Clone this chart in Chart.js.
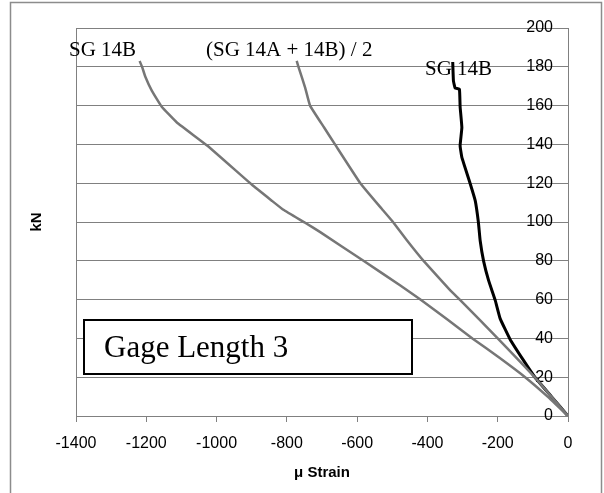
<!DOCTYPE html>
<html>
<head>
<meta charset="utf-8">
<script src="https://cdn.jsdelivr.net/npm/chart.js@4.4.0/dist/chart.umd.min.js"></script>
<style>
    html, body { margin: 0; padding: 0; background: #fff; }
    #wrap { position: relative; width: 604px; height: 493px; }
</style>
</head>
<body>
<div id="wrap"><canvas id="gageChart" width="604" height="493"></canvas></div>
<script>
// SG 14B (left gray curve)
const strainLeft = [0, -58, -122, -195, -272, -345, -420, -477, -582, -705, -748, -810, -843, -900, -1026, -1113, -1156, -1184, -1203, -1212, -1219];
const kNLeft     = [0, 10, 20, 30, 40, 50, 60, 67.3, 80, 94.8, 99.6, 106.3, 111, 119.3, 139.3, 151.3, 159.4, 167.6, 175, 180, 183];

// (SG 14A + 14B) / 2 (middle gray curve)
const strainAvg = [0, -95, -200, -308, -335, -411, -458, -498, -530, -591, -663, -694, -734, -748, -767, -772];
const kNAvg     = [0, 20, 40, 60, 64.8, 80, 90.5, 100, 106.8, 120, 140, 148.7, 160, 169.3, 180, 183];

// SG 14B (right black curve)
const strainRight = [0, -47, -93, -127, -165, -193, -207, -226, -240, -250, -255, -264, -278, -302, -307, -302, -307, -309, -321, -326, -328];
const kNRight     = [0, 10, 19.7, 28.8, 39.6, 50.2, 59.6, 69.9, 79.7, 90.5, 99.9, 111, 119.6, 133.3, 139.3, 148.7, 159.4, 168.5, 169, 172.7, 182.5];

const xTicks = [-1400, -1200, -1000, -800, -600, -400, -200, 0];
const yTicks = [0, 20, 40, 60, 80, 100, 120, 140, 160, 180, 200];

const seriesLabels = ['SG 14B', '(SG 14A + 14B) / 2', 'SG 14B'];
const boxLabel = 'Gage Length 3';

function toPoints(xs, ys) {
    return xs.map((x, i) => ({ x: x, y: ys[i] }));
}

const gridGray = '#808080';
const sansFont = "'Liberation Sans', Arial, sans-serif";
const serifFont = "'Liberation Serif', 'Times New Roman', serif";

const decorPlugin = {
    id: 'decor',
    beforeDatasetsDraw(chart) {
        const { ctx, chartArea } = chart;
        ctx.save();
        ctx.strokeStyle = gridGray;
        ctx.lineWidth = 1;
        ctx.beginPath();
        ctx.moveTo(chartArea.left + 0.5, chartArea.top);
        ctx.lineTo(chartArea.left + 0.5, chartArea.bottom);
        ctx.stroke();
        ctx.restore();
    },
    afterDraw(chart) {
        const { ctx } = chart;
        ctx.save();
        // outer frame
        ctx.strokeStyle = '#8c8c8c';
        ctx.lineWidth = 1.5;
        ctx.strokeRect(10.5, 2.5, 591, 520);

        // y title
        ctx.fillStyle = '#000';
        ctx.font = "bold 15px " + sansFont;
        ctx.textAlign = 'center';
        ctx.textBaseline = 'middle';
        ctx.translate(37, 222);
        ctx.rotate(-Math.PI / 2);
        ctx.fillText('kN', 0, 0);
        ctx.setTransform(1, 0, 0, 1, 0, 0);

        // series labels
        ctx.font = "21px " + serifFont;
        ctx.textAlign = 'left';
        ctx.textBaseline = 'alphabetic';
        ctx.fillText(seriesLabels[0], 69, 56);
        ctx.fillText(seriesLabels[1], 206, 56);
        ctx.fillText(seriesLabels[2], 425, 75);

        // gage length box
        ctx.fillStyle = '#fff';
        ctx.fillRect(84, 320, 328, 54);
        ctx.strokeStyle = '#000';
        ctx.lineWidth = 2;
        ctx.strokeRect(84, 320, 328, 54);
        ctx.fillStyle = '#000';
        ctx.font = "31px " + serifFont;
        ctx.fillText(boxLabel, 104, 357);
        ctx.restore();
    }
};

const ctx = document.getElementById('gageChart');
new Chart(ctx, {
    type: 'scatter',
    data: {
        datasets: [
            {
                label: seriesLabels[0],
                data: toPoints(strainLeft, kNLeft),
                showLine: true,
                borderColor: '#767676',
                borderWidth: 2.5,
                pointRadius: 0,
                tension: 0.1
            },
            {
                label: seriesLabels[1],
                data: toPoints(strainAvg, kNAvg),
                showLine: true,
                borderColor: '#767676',
                borderWidth: 2.5,
                pointRadius: 0,
                tension: 0.1
            },
            {
                label: seriesLabels[2],
                data: toPoints(strainRight, kNRight),
                showLine: true,
                borderColor: '#000000',
                borderWidth: 3,
                pointRadius: 0,
                tension: 0.1
            }
        ]
    },
    options: {
        responsive: false,
        animation: false,
        devicePixelRatio: 1,
        layout: { padding: { left: 76, right: 0, top: 28, bottom: 0 } },
        plugins: {
            legend: { display: false },
            tooltip: { enabled: false }
        },
        scales: {
            x: {
                type: 'linear',
                position: 'bottom',
                min: xTicks[0],
                max: xTicks[xTicks.length - 1],
                afterBuildTicks: (scale) => { scale.ticks = xTicks.map(v => ({ value: v })); },
                ticks: {
                    color: '#000',
                    font: { family: sansFont, size: 16 },
                    padding: 12,
                    maxRotation: 0,
                    callback: (v) => String(v)
                },
                grid: {
                    drawOnChartArea: false,
                    drawTicks: true,
                    tickLength: 6,
                    tickColor: gridGray
                },
                border: { color: gridGray },
                title: {
                    display: true,
                    text: 'μ Strain',
                    color: '#000',
                    font: { family: sansFont, size: 15, weight: 'bold' },
                    padding: { top: 0, bottom: 11 }
                },
                afterFit: (scale) => { scale.height = 77; }
            },
            y: {
                type: 'linear',
                position: 'right',
                min: yTicks[0],
                max: yTicks[yTicks.length - 1],
                afterBuildTicks: (scale) => { scale.ticks = yTicks.map(v => ({ value: v })); },
                ticks: {
                    mirror: true,
                    padding: -15,
                    color: '#000',
                    font: { family: sansFont, size: 16 },
                    callback: (v) => String(v)
                },
                grid: {
                    color: gridGray,
                    drawTicks: false
                },
                border: { color: gridGray },
                afterFit: (scale) => { scale.width = 36; }
            }
        }
    },
    plugins: [decorPlugin]
});
</script>
</body>
</html>
